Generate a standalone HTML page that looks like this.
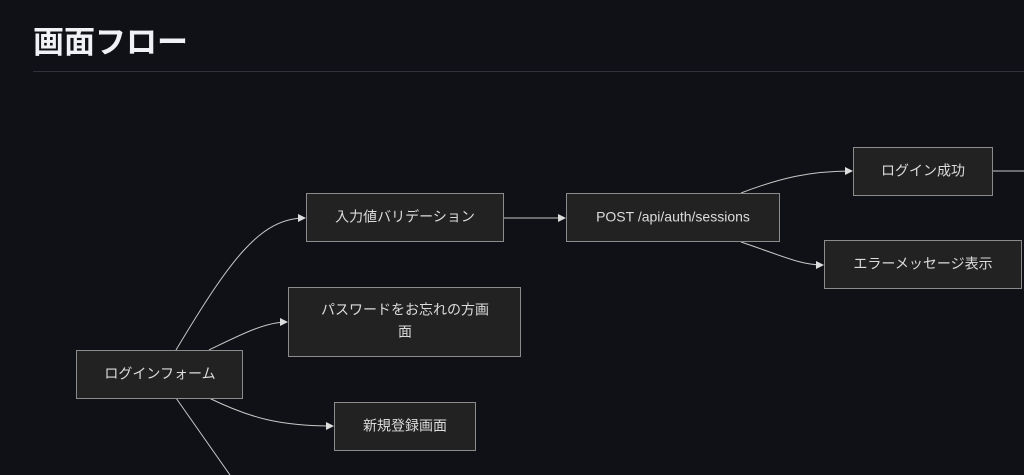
<!DOCTYPE html>
<html><head><meta charset="utf-8"><style>
html,body{margin:0;padding:0;background:#0f1116;width:1024px;height:475px;overflow:hidden}
h1{position:absolute;left:33px;top:23px;margin:0;font:bold 31px/40px "Liberation Sans","Noto Sans CJK JP",sans-serif;color:#f0f2f5}
.hr{position:absolute;left:33px;top:71px;width:991px;height:1px;background:#30333a}
svg{position:absolute;left:0;top:0}
text{font-family:"Liberation Sans","Noto Sans CJK JP",sans-serif;font-size:14px;fill:#dcdcdc;text-anchor:middle;dominant-baseline:middle}
rect{fill:#212221;stroke:#8c8c8c;stroke-width:1}
path{fill:none;stroke:#c8c8c8;stroke-width:1}
</style></head><body>
<h1>画面フロー</h1><div class="hr"></div>
<svg width="1024" height="475">
<defs><marker id="a" markerWidth="8" markerHeight="8" refX="7" refY="4" orient="auto" markerUnits="userSpaceOnUse"><path d="M0,0L8,4L0,8z" style="fill:#ddd;stroke:none"/></marker></defs>
<path d="M176,350 C230,260 260,218 305,218" marker-end="url(#a)"/>
<path d="M209,350 C240,335 265,322 287,322" marker-end="url(#a)"/>
<path d="M209,398 C250,418 280,426 333,426" marker-end="url(#a)"/>
<path d="M176,398 L230,475"/>
<path d="M504,218 L565,218" marker-end="url(#a)"/>
<path d="M741,193 C780,178 810,171 852,171" marker-end="url(#a)"/>
<path d="M741,242 C780,255 800,265 823,265" marker-end="url(#a)"/>
<path d="M992,171 L1024,171"/>
<rect x="76.5" y="350.5" width="166" height="48"/><text x="160" y="375">ログインフォーム</text>
<rect x="306.5" y="193.5" width="197" height="48"/><text x="405" y="218">入力値バリデーション</text>
<rect x="288.5" y="287.5" width="232" height="69"/><text x="405" y="311">パスワードをお忘れの方画</text><text x="405" y="333">面</text>
<rect x="334.5" y="402.5" width="141" height="48"/><text x="405" y="427">新規登録画面</text>
<rect x="566.5" y="193.5" width="213" height="48"/><text x="673" y="218">POST /api/auth/sessions</text>
<rect x="853.5" y="147.5" width="139" height="48"/><text x="923" y="172">ログイン成功</text>
<rect x="824.5" y="240.5" width="197" height="48"/><text x="923" y="265">エラーメッセージ表示</text>
</svg>
</body></html>
